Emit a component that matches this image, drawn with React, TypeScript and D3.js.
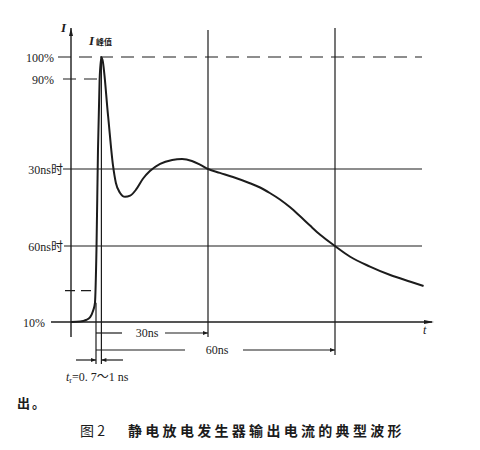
import React from "react";
import * as d3 from "d3";

// Typical ESD generator discharge current waveform (schematic).
// Time in ns (0 = 10% crossing), current in % of peak.
const waveTime = [-6, -3.8, -2.4, -1.4, -0.7, -0.25, 0.08, 0.33, 0.6, 0.9, 1.14, 2.64, 4.0, 4.8, 5.9, 7.3, 8.7, 10.3, 12.2, 14.1, 16.9, 20.2, 22.9, 25.6, 27.8, 30, 32.8, 35.9, 39.9, 42.3, 44.6, 47.0, 49.4, 51.7, 54.1, 56.5, 60, 63.6, 68.3, 73.1, 77.9, 81.0];
const waveLevel = [10, 10.1, 10.45, 11.1, 12.5, 14.3, 26.3, 60.8, 89.6, 100, 98.6, 75.2, 54.6, 48.3, 45.0, 43.6, 44.0, 46.0, 49.7, 52.3, 55.1, 56.7, 57.1, 56.3, 54.8, 53, 51.7, 50.3, 48.2, 46.75, 44.9, 42.7, 40.05, 37.1, 33.9, 30.8, 27, 24.6, 22.4, 20.5, 19.0, 18.05];

// Reference levels (% of peak) and their labels
const levelValues = [100, 90, 53, 27, 10];
const levelLabels = ["100%", "90%", "30ns时", "60ns时", "10%"];
const kneeLevel = 17;

// Key times (ns)
const tStart = -6;
const tPeak = 0.9;
const tMarkLabels = ["30ns", "60ns"];
const tEnd = 83;

const caption = "静电放电发生器输出电流的典型波形";

const serif = "'Liberation Serif', 'DejaVu Serif', 'Noto Sans CJK SC', serif";
const cjk = "'Noto Sans CJK SC', sans-serif";
const ink = "#1c1c1c";

export default function App() {
  // Schematic (piecewise) axes
  const x = d3.scaleLinear().domain([tStart, 0, 1, 30, 60, tEnd]).range([71, 96, 102, 208, 335, 432]);
  const y = d3.scaleLinear().domain([10, 27, 53, 90, 100]).range([322, 246, 169, 79, 57]);

  const pts: [number, number][] = waveTime.map((t, i) => [t, waveLevel[i]]);
  const line = d3
    .line<[number, number]>()
    .x((d) => x(d[0]))
    .y((d) => y(d[1]))
    .curve(d3.curveMonotoneX);

  const yTop = 28;
  const xAxis = x(tStart);
  const x0 = x(0);
  const xp = x(tPeak);
  const x30 = x(30);
  const x60 = x(60);
  const xRight = 422;
  const y10 = y(10);

  const labelEnd = [54, 54, 63, 63, 45];
  const lineStart = [58, 63, 63, 64, 51];

  const dimY30 = 333;
  const dimY60 = 350;
  const trY = 360;

  return (
    <svg width={480} height={450} style={{ position: "absolute", left: 0, top: 0, background: "#fff" }}>
      <defs>
        <marker id="ah" viewBox="0 0 10 10" refX="10" refY="5" markerWidth="7" markerHeight="5" orient="auto" markerUnits="userSpaceOnUse">
          <path d="M0,1 L10,5 L0,9 z" fill={ink} />
        </marker>
      </defs>

      {/* Vertical axis */}
      <line x1={xAxis} y1={yTop} x2={xAxis} y2={337} stroke={ink} strokeWidth={1.4} />
      <path d={`M${xAxis - 2},${yTop + 8} L${xAxis},${yTop} L${xAxis + 2},${yTop + 8} z`} fill={ink} />
      <text x={61} y={32} fontFamily={serif} fontStyle="italic" fontWeight="bold" fontSize={13} fill={ink}>I</text>

      {/* Horizontal axis (10% line) */}
      <line x1={lineStart[4]} y1={y10} x2={432} y2={y10} stroke={ink} strokeWidth={1.4} />
      <path d={`M424,${y10 - 2} L434,${y10} L424,${y10 + 2} z`} fill={ink} />
      <text x={423} y={334} fontFamily={serif} fontStyle="italic" fontSize={12} fill={ink}>t</text>

      {/* Level lines */}
      {levelValues.slice(0, 4).map((v, i) => {
        const dashed = i < 2;
        const xe = i === 1 ? x(0.6) : xRight;
        return (
          <line
            key={"lv" + i}
            x1={lineStart[i]}
            y1={y(v)}
            x2={xe}
            y2={y(v)}
            stroke={ink}
            strokeWidth={1.2}
            strokeDasharray={dashed ? "13,8" : undefined}
          />
        );
      })}
      {levelLabels.map((l, i) => (
        <text key={"ll" + i} x={labelEnd[i]} y={y(levelValues[i]) + 4.5} textAnchor="end" fontFamily={serif} fontSize={12} fill={ink}>
          {l}
        </text>
      ))}

      {/* Knee marker */}
      <line x1={65} y1={y(kneeLevel)} x2={x(-0.3)} y2={y(kneeLevel)} stroke={ink} strokeWidth={1.2} strokeDasharray="10,6" />

      {/* Vertical markers at 30 ns and 60 ns */}
      <line x1={x30} y1={yTop + 2} x2={x30} y2={337} stroke={ink} strokeWidth={1.2} />
      <line x1={x60} y1={yTop} x2={x60} y2={355} stroke={ink} strokeWidth={1.2} />

      {/* Rise-time markers */}
      <line x1={x0} y1={y(14.3)} x2={x0} y2={364} stroke={ink} strokeWidth={1.2} />
      <line x1={xp} y1={y(100)} x2={xp} y2={364} stroke={ink} strokeWidth={1.2} />

      {/* Peak label */}
      <text x={89} y={45} fontFamily={serif} fontStyle="italic" fontWeight="bold" fontSize={13} fill={ink}>I</text>
      <text x={96} y={45} fontFamily={cjk} fontWeight="bold" fontSize={8} fill={ink}>峰值</text>

      {/* Waveform */}
      <path d={line(pts) ?? ""} fill="none" stroke={ink} strokeWidth={2} strokeLinejoin="round" />

      {/* 30 ns / 60 ns dimensions */}
      <line x1={x0} y1={dimY30} x2={122} y2={dimY30} stroke={ink} strokeWidth={1.2} />
      <line x1={165} y1={dimY30} x2={x30} y2={dimY30} stroke={ink} strokeWidth={1.2} markerEnd="url(#ah)" />
      <text x={147} y={337} textAnchor="middle" fontFamily={serif} fontSize={12} fill={ink}>{tMarkLabels[0]}</text>
      <line x1={x0} y1={dimY60} x2={185} y2={dimY60} stroke={ink} strokeWidth={1.2} />
      <line x1={243} y1={dimY60} x2={x60} y2={dimY60} stroke={ink} strokeWidth={1.2} markerEnd="url(#ah)" />
      <text x={217} y={354} textAnchor="middle" fontFamily={serif} fontSize={12} fill={ink}>{tMarkLabels[1]}</text>

      {/* Rise time arrows */}
      <line x1={76} y1={trY} x2={x0} y2={trY} stroke={ink} strokeWidth={1.2} markerEnd="url(#ah)" />
      <line x1={123} y1={trY} x2={xp} y2={trY} stroke={ink} strokeWidth={1.2} markerEnd="url(#ah)" />
      <text x={66} y={381} fontFamily={serif} fontSize={12} fill={ink}>
        <tspan fontStyle="italic">t</tspan>
        <tspan fontSize={8} dy={2}>r</tspan>
        <tspan dy={-2}>=0. 7～1 ns</tspan>
      </text>

      {/* Text below the figure */}
      <text x={17} y={408} fontFamily={cjk} fontWeight="bold" fontSize={13} letterSpacing={2} fill={ink}>出。</text>
      <text x={80} y={436} fontFamily={cjk} fontSize={14} fill={ink}>图 2</text>
      <text x={128} y={436} fontFamily={cjk} fontWeight="bold" fontSize={14} letterSpacing={3.3} fill={ink}>{caption}</text>
    </svg>
  );
}
